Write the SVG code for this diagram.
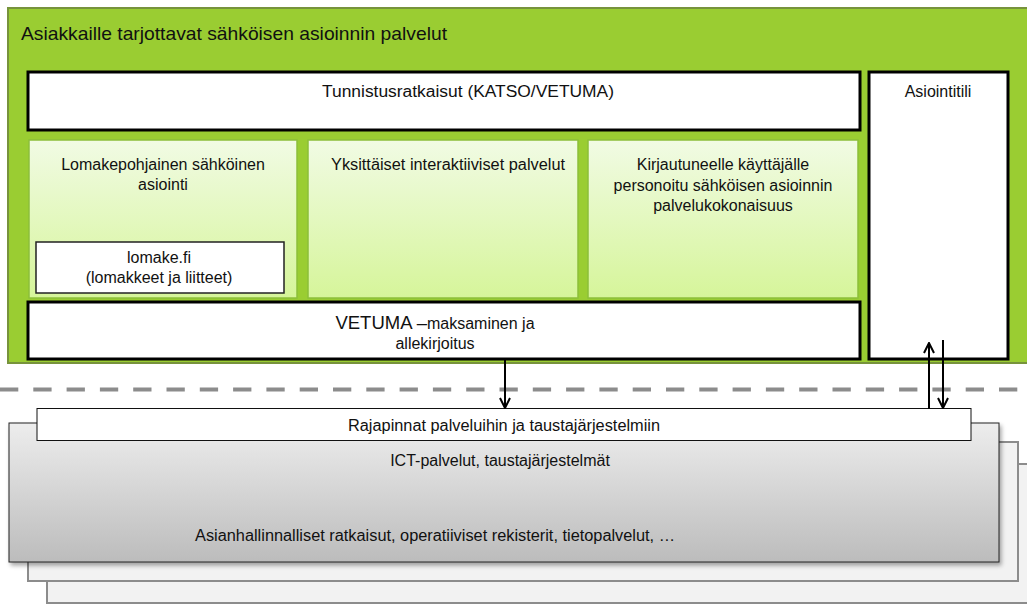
<svg xmlns="http://www.w3.org/2000/svg" width="1027" height="605" viewBox="0 0 1027 605">
<defs>
<linearGradient id="gPanel" x1="0" y1="0" x2="0" y2="1">
<stop offset="0" stop-color="#f1fbe4"/>
<stop offset="1" stop-color="#d6f59a"/>
</linearGradient>
<linearGradient id="gGray" x1="0" y1="0" x2="0" y2="1">
<stop offset="0" stop-color="#ededed"/>
<stop offset="1" stop-color="#bcbcbc"/>
</linearGradient>
<filter id="sh" x="-5%" y="-5%" width="110%" height="120%">
<feDropShadow dx="2" dy="3" stdDeviation="2" flood-color="#000" flood-opacity="0.35"/>
</filter>
<marker id="ah" viewBox="0 0 12 12" refX="11" refY="6" markerWidth="12" markerHeight="12" markerUnits="userSpaceOnUse" orient="auto">
<path d="M1,1 L11,6 L1,11" fill="none" stroke="#000" stroke-width="2"/>
</marker>
<style>
text{font-family:"Liberation Sans",Arial,sans-serif;fill:#111;}
.c{text-anchor:middle;font-size:16px;}
.wb{fill:#fff;stroke:#000;stroke-width:3;}
.panel{fill:url(#gPanel);stroke:#8cbf3a;stroke-width:1.5;}
.stack{fill:#f2f2f2;stroke:#8c8c8c;stroke-width:2;}
.conn{stroke:#000;stroke-width:2;fill:none;marker-end:url(#ah);}
</style>
</defs>

<g id="outer">
<rect x="8" y="8" width="1030" height="355" fill="#9acd32" stroke="#77933c" stroke-width="2"/>
<text x="21" y="40" font-size="19" textLength="426" lengthAdjust="spacingAndGlyphs">Asiakkaille tarjottavat sähköisen asioinnin palvelut</text>
</g>

<g id="tunnistus">
<rect class="wb" x="28" y="72" width="832" height="58"/>
<text class="c" x="468" y="97" textLength="292" lengthAdjust="spacingAndGlyphs">Tunnistusratkaisut (KATSO/VETUMA)</text>
</g>

<g id="asiointitili">
<rect class="wb" x="869" y="72" width="139" height="287"/>
<text class="c" x="938" y="97">Asiointitili</text>
</g>

<g id="lomakepohjainen">
<rect class="panel" x="29" y="140" width="268" height="158"/>
<text class="c" x="163" y="170">Lomakepohjainen sähköinen</text>
<text class="c" x="163" y="190">asiointi</text>
</g>

<g id="lomakefi">
<rect x="36" y="242" width="248" height="51" fill="#fff" stroke="#222" stroke-width="1.5"/>
<text class="c" x="159" y="263">lomake.fi</text>
<text class="c" x="159" y="283">(lomakkeet ja liitteet)</text>
</g>

<g id="yksittaiset">
<rect class="panel" x="308" y="140" width="270" height="158"/>
<text class="c" x="448" y="170" textLength="234" lengthAdjust="spacingAndGlyphs">Yksittäiset interaktiiviset palvelut</text>
</g>

<g id="kirjautuneelle">
<rect class="panel" x="588" y="140" width="270" height="158"/>
<text class="c" x="723" y="170">Kirjautuneelle käyttäjälle</text>
<text class="c" x="723" y="191">personoitu sähköisen asioinnin</text>
<text class="c" x="723" y="211">palvelukokonaisuus</text>
</g>

<g id="vetuma">
<rect class="wb" x="28" y="302" width="832" height="57"/>
<text x="435" y="329" text-anchor="middle"><tspan font-size="18.5">VETUMA –</tspan><tspan font-size="16">maksaminen ja</tspan></text>
<text class="c" x="435" y="349">allekirjoitus</text>
</g>

<line id="separator" x1="0" y1="389.5" x2="1027" y2="389.5" stroke="#8c8c8c" stroke-width="4" stroke-dasharray="18.3 15"/>

<g id="stack-back">
<rect class="stack" x="47" y="464" width="990" height="139"/>
</g>
<g id="stack-mid">
<rect class="stack" x="28" y="442" width="990" height="139"/>
</g>
<g id="ict">
<rect x="9" y="423" width="990" height="139" fill="url(#gGray)" stroke="#222" stroke-width="1" filter="url(#sh)"/>
<text class="c" x="500" y="466">ICT-palvelut, taustajärjestelmät</text>
<text class="c" x="435" y="541" textLength="480" lengthAdjust="spacingAndGlyphs">Asianhallinnalliset ratkaisut, operatiiviset rekisterit, tietopalvelut, …</text>
</g>

<g id="rajapinnat">
<rect x="37" y="408.5" width="934" height="32" fill="#fff" stroke="#111" stroke-width="1"/>
<text class="c" x="504" y="431" textLength="312" lengthAdjust="spacingAndGlyphs">Rajapinnat palveluihin ja taustajärjestelmiin</text>
</g>

<g id="connectors">
<line class="conn" x1="505" y1="360" x2="505" y2="408"/>
<line class="conn" x1="929" y1="409" x2="929" y2="343"/>
<line class="conn" x1="943" y1="340" x2="943" y2="408"/>
</g>
</svg>
